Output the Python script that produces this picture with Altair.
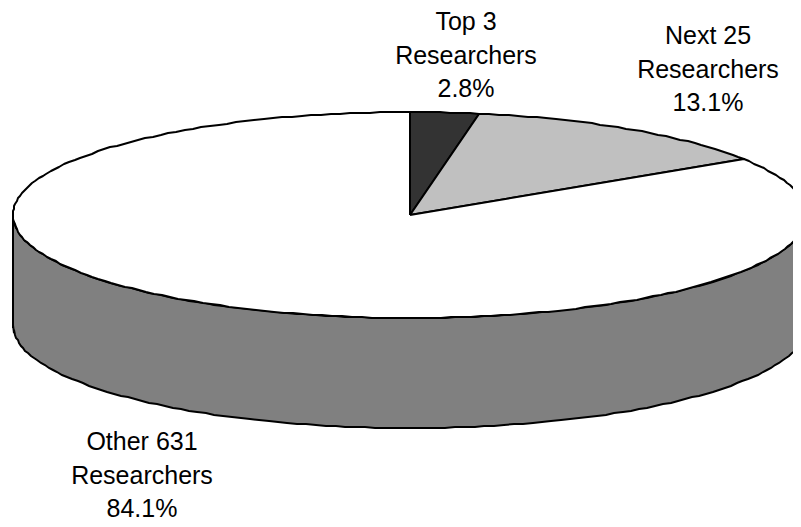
import math
import altair as alt
import pandas as pd

names = ["Top 3\nResearchers", "Next 25\nResearchers", "Other 631\nResearchers"]
shares = [2.8, 13.1, 84.1]
slice_fills = ["#333333", "#c0c0c0", "#ffffff"]
side_fill = "#808080"
depth = 1.068
RX, RY = 397.0, 103.0
X_DOMAIN = [-402 / RX, 383 / RX]
Y_DOMAIN = [-304 / RY, 207 / RY]
W, H = 785, 511
FONT = "Liberation Sans"
STEP = 2 * math.pi / 250


def rim(a):
    # a point of the rim, snapped to a pixel grid as in the low-resolution original
    return (round(math.sin(a) * RX) / RX, round(math.cos(a) * RY) / RY)


def arc(a0, a1):
    n = max(2, int(round((a1 - a0) / STEP)))
    return [a0 + (a1 - a0) * i / n for i in range(n + 1)]


xs = alt.X("x:Q", scale=alt.Scale(domain=X_DOMAIN, nice=False, zero=False), axis=None)
ys = alt.Y("y:Q", scale=alt.Scale(domain=Y_DOMAIN, nice=False, zero=False), axis=None)

wall_pts = [rim(a) for a in arc(math.pi / 2, 3 * math.pi / 2)]
wall = pd.DataFrame(wall_pts, columns=["x", "y"])
wall["y_low"] = wall["y"] - depth
wall_mark = alt.Chart(wall).mark_area(
    fill=side_fill, stroke="black", strokeWidth=2, clip=True, opacity=1
).encode(x=xs, y=ys, y2="y_low:Q")

layers = [wall_mark]
start = 0.0
for share, fill in zip(shares, slice_fills):
    end = start + 2 * math.pi * share / 100
    pts = [(0.0, 0.0)] + [rim(a) for a in arc(start, end)] + [(0.0, 0.0)]
    df = pd.DataFrame(pts, columns=["x", "y"])
    df["i"] = range(len(df))
    layers.append(
        alt.Chart(df).mark_line(
            fill=fill, stroke="black", strokeWidth=2, clip=True, strokeJoin="round"
        ).encode(x=xs, y=ys, order="i:Q")
    )
    start = end

labels = pd.DataFrame({
    "text": [f"{n}\n{s}%" for n, s in zip(names, shares)],
    "px": [458, 700, 134],
    "py": [2, 16, 422],
})
text = alt.Chart(labels).mark_text(
    font=FONT, fontSize=25, color="black", lineBreak="\n", lineHeight=33.5,
    align="center", baseline="top",
).encode(
    x=alt.X("px:Q", scale=None),
    y=alt.Y("py:Q", scale=None),
    text="text:N",
)
layers.append(text)

chart = alt.layer(*layers).properties(width=W, height=H, padding=0).configure_view(stroke=None)
chart.save("out.html", embed_options={"renderer": "svg", "actions": False})
